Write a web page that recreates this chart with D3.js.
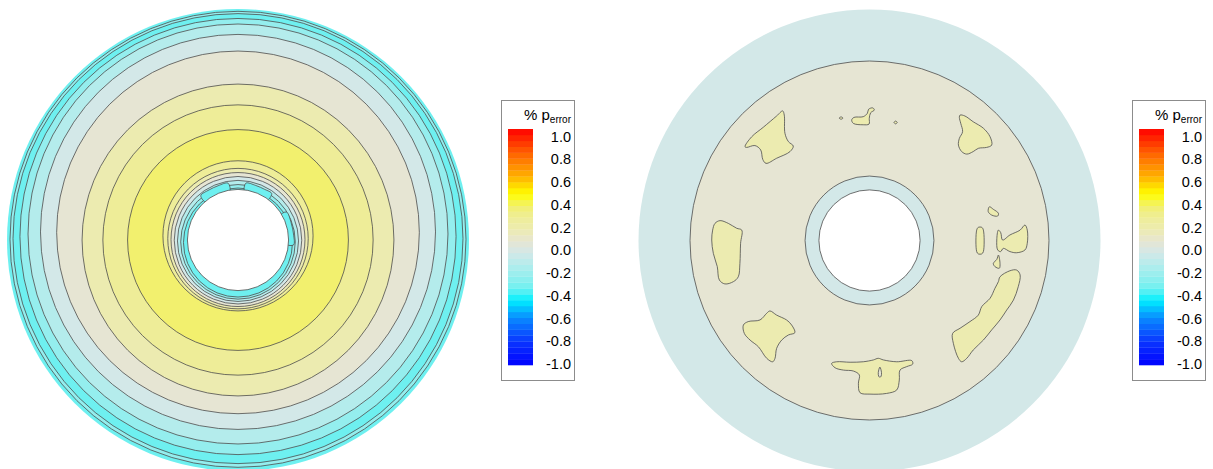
<!DOCTYPE html>
<html>
<head>
<meta charset="utf-8">
<script src="https://cdn.jsdelivr.net/npm/d3@7"></script>
<style>
  body { margin: 0; background: #fff; }
  svg { display: block; }
  text { font-family: "Liberation Sans", Arial, Helvetica, sans-serif; fill: #000; }
</style>
</head>
<body>
<svg id="chart" width="1213" height="469"></svg>
<script>
// ---- colour map for % p_error (banded) ----
const cmapValues = [-1.0, -0.8, -0.6, -0.45, -0.35, -0.25, -0.15, -0.05, 0.05, 0.15, 0.25, 0.35, 0.45, 0.6, 0.8, 1.0];
const cmapColors = ["#0000ff", "#0a36ff", "#0a8cff", "#00f0ff", "#6ef0f0", "#94eeee", "#b4ecec", "#d3e8e8",
                    "#e6e5d3", "#ecebb0", "#eeed98", "#f2f06e", "#ffff00", "#ffb000", "#ff6000", "#ff0000"];
const legendTicks = [1.0, 0.8, 0.6, 0.4, 0.2, 0.0, -0.2, -0.4, -0.6, -0.8, -1.0];
const legendBandCount = 40;

// ---- case A: radial contour bands (radius r/R, centre offset dy, band value) ----
const leftBounds = [1.0, 0.987, 0.974, 0.944, 0.909, 0.855, 0.785, 0.675, 0.585, 0.478,
                    0.325, 0.304, 0.290, 0.276, 0.262, 0.248, 0.236];
const leftShift  = [0, 0.003, 0.006, 0.015, 0.026, 0.035, 0.033, 0, 0, 0,
                    0.018, 0.006, 0.002, -0.001, -0.004, -0.008, -0.011];
const leftBands  = [-0.35, -0.25, -0.35, -0.25, -0.15, -0.05, 0.05, 0.15, 0.25, 0.35,
                    0.25, 0.15, 0.05, -0.05, -0.15, -0.25, -0.35];

// ---- case A: pockets at the inner wall (x, y in r/R units) ----
const pocketNW = [[-0.043,0.246],[-0.086,0.235],[-0.125,0.217],[-0.161,0.192],
  [-0.135,0.161],[-0.089,0.190],[-0.036,0.207]];
const pocketNE = [[0.034,0.246],[0.077,0.236],[0.116,0.219],[0.146,0.201],
  [0.123,0.170],[0.079,0.195],[0.029,0.208]];
const pocketE = [[0.210,0.121],[0.230,0.075],[0.241,0.021],[0.241,-0.021],
  [0.209,-0.018],[0.205,0.044],[0.182,0.105]];
const leftPatches = [
  { value: -0.35, pts: pocketNW }, { value: -0.35, pts: pocketNE }, { value: -0.35, pts: pocketE }
];

// ---- case B: radial bands ----
const rightBounds = [1.0, 0.777, 0.279];
const rightShift  = [0, 0, 0];
const rightBands  = [-0.05, 0.05, -0.05];
const holeRadius = 0.219;

// ---- case B: isolated patches (x, y in r/R units) ----
const patchNW = [[-0.539,0.406],[-0.510,0.449],[-0.460,0.490],[-0.402,0.539],[-0.376,0.561],[-0.369,0.543],
  [-0.366,0.464],[-0.351,0.428],[-0.330,0.409],[-0.344,0.385],[-0.402,0.356],[-0.448,0.334],[-0.462,0.351],
  [-0.471,0.392],[-0.496,0.411],[-0.532,0.403]];
const patchN = [[-0.077,0.522],[-0.067,0.533],[-0.027,0.536],[-0.009,0.551],[-0.004,0.568],[0.014,0.574],
  [0.021,0.565],[0.005,0.553],[-0.001,0.529],[-0.002,0.504],[-0.027,0.501],[-0.070,0.507]];
const patchDotA = [[-0.131,0.530],[-0.123,0.535],[-0.115,0.530],[-0.123,0.525]];
const patchDotB = [[0.106,0.511],[0.113,0.517],[0.120,0.511],[0.113,0.505]];
const patchNE = [[0.392,0.543],[0.413,0.539],[0.449,0.514],[0.493,0.486],[0.522,0.449],[0.529,0.413],
  [0.507,0.403],[0.471,0.399],[0.449,0.385],[0.421,0.374],[0.399,0.385],[0.385,0.413],[0.389,0.442],
  [0.403,0.471],[0.395,0.507],[0.389,0.533]];
const patchW = [[-0.669,0.074],[-0.647,0.086],[-0.611,0.074],[-0.575,0.053],[-0.553,0.045],[-0.558,-0.012],
  [-0.561,-0.099],[-0.568,-0.157],[-0.589,-0.178],[-0.626,-0.188],[-0.650,-0.171],[-0.659,-0.113],
  [-0.676,-0.056],[-0.683,0.002],[-0.679,0.045]];
const patchSW = [[-0.546,-0.366],[-0.525,-0.351],[-0.474,-0.344],[-0.445,-0.315],[-0.431,-0.305],[-0.402,-0.323],
  [-0.359,-0.344],[-0.337,-0.366],[-0.323,-0.399],[-0.351,-0.409],[-0.380,-0.431],[-0.402,-0.467],
  [-0.409,-0.510],[-0.419,-0.525],[-0.445,-0.510],[-0.481,-0.460],[-0.517,-0.431],[-0.542,-0.402]];
const patchS = [[-0.164,-0.532],[-0.142,-0.525],[-0.084,-0.527],[-0.027,-0.525],[0.017,-0.517],[0.038,-0.510],
  [0.060,-0.517],[0.118,-0.525],[0.183,-0.520],[0.187,-0.535],[0.161,-0.546],[0.132,-0.561],[0.129,-0.604],
  [0.118,-0.647],[0.074,-0.662],[0.002,-0.665],[-0.041,-0.659],[-0.048,-0.618],[-0.044,-0.582],
  [-0.070,-0.565],[-0.113,-0.561],[-0.149,-0.551]];
const patchSHole = [[0.045,-0.548],[0.052,-0.572],[0.050,-0.588],[0.045,-0.592],[0.040,-0.588],[0.038,-0.572]];
const patchSE = [[0.565,-0.157],[0.608,-0.131],[0.637,-0.128],[0.652,-0.149],[0.644,-0.200],[0.623,-0.258],
  [0.594,-0.301],[0.565,-0.344],[0.529,-0.387],[0.493,-0.431],[0.449,-0.474],[0.421,-0.510],[0.399,-0.525],
  [0.385,-0.510],[0.363,-0.445],[0.360,-0.402],[0.392,-0.380],[0.435,-0.351],[0.471,-0.323],[0.486,-0.286],
  [0.522,-0.250],[0.543,-0.207],[0.558,-0.178]];
const patchE1 = [[0.519,0.146],[0.536,0.135],[0.558,0.118],[0.555,0.106],[0.529,0.110],[0.514,0.125]];
const patchE2 = [[0.464,0.045],[0.471,0.057],[0.486,0.057],[0.493,0.045],[0.493,-0.048],[0.486,-0.058],
  [0.471,-0.058],[0.464,-0.048]];
const patchE3 = [[0.558,0.045],[0.568,0.034],[0.576,0.002],[0.608,0.024],[0.652,0.045],[0.673,0.067],
  [0.683,0.045],[0.683,-0.012],[0.673,-0.041],[0.637,-0.053],[0.608,-0.048],[0.579,-0.034],[0.568,-0.048],
  [0.555,-0.041],[0.551,0.002]];
const patchE4 = [[0.558,-0.063],[0.565,-0.099],[0.562,-0.120],[0.543,-0.113],[0.536,-0.099],[0.551,-0.082]];

const rightPatches = [
  { value: 0.15, pts: patchNW }, { value: 0.15, pts: patchN }, { value: 0.15, pts: patchDotA },
  { value: 0.15, pts: patchDotB }, { value: 0.15, pts: patchNE }, { value: 0.15, pts: patchW },
  { value: 0.15, pts: patchSW }, { value: 0.15, pts: patchS }, { value: 0.05, pts: patchSHole },
  { value: 0.15, pts: patchSE }, { value: 0.15, pts: patchE1 }, { value: 0.15, pts: patchE2 },
  { value: 0.15, pts: patchE3 }, { value: 0.15, pts: patchE4 }
];

// ---- drawing ----
const svg = d3.select("#chart");
const color = d3.scaleLinear().domain(cmapValues).range(cmapColors).interpolate(d3.interpolateRgb);
const lineColor = "#4d4d4d";

function drawDisk(cx, cy, R, bounds, shifts, bands, patches) {
  const x = d3.scaleLinear().domain([-1, 1]).range([cx - R, cx + R]);
  const y = d3.scaleLinear().domain([-1, 1]).range([cy + R, cy - R]);
  const rad = d => x(d) - x(0);
  const g = svg.append("g");
  const rings = bounds.map((b, i) => ({ r: b, dy: shifts[i], v: bands[i], edge: i === 0 }));

  g.selectAll("circle.band").data(rings).join("circle")
    .attr("class", "band")
    .attr("cx", x(0)).attr("cy", d => y(d.dy)).attr("r", d => rad(d.r))
    .attr("fill", d => color(d.v))
    .attr("stroke", d => d.edge ? "none" : lineColor)
    .attr("stroke-width", 0.8);

  const line = d3.line().x(d => x(d[0])).y(d => y(d[1])).curve(d3.curveCatmullRomClosed.alpha(0.5));
  g.selectAll("path.patch").data(patches).join("path")
    .attr("class", "patch")
    .attr("d", d => line(d.pts))
    .attr("fill", d => color(d.value))
    .attr("stroke", lineColor).attr("stroke-width", 0.8);

  g.append("circle")
    .attr("cx", x(0)).attr("cy", y(0)).attr("r", rad(holeRadius))
    .attr("fill", "#fff").attr("stroke", lineColor).attr("stroke-width", 0.8);
}

function drawLegend(left) {
  const top = 100, width = 73, height = 280;
  const g = svg.append("g");
  g.append("rect").attr("x", left + 0.5).attr("y", top + 0.5).attr("width", width).attr("height", height)
    .attr("fill", "#fff").attr("stroke", "#8c8c8c").attr("stroke-width", 1);

  const barY = d3.scaleLinear().domain([-1, 1]).range([365, 129]);
  const step = 2 / legendBandCount;
  const bands = d3.range(legendBandCount).map(i => -1 + i * step);
  g.selectAll("rect.cb").data(bands).join("rect")
    .attr("class", "cb")
    .attr("x", left + 7).attr("width", 25)
    .attr("y", d => barY(d + step)).attr("height", d => barY(d) - barY(d + step) + 0.3)
    .attr("fill", d => color(d + step / 2));

  const tickY = d3.scaleLinear().domain([-1, 1]).range([364, 136.5]);
  g.selectAll("text.tick").data(legendTicks).join("text")
    .attr("class", "tick")
    .attr("x", left + 70).attr("y", d => tickY(d))
    .attr("text-anchor", "end").attr("dominant-baseline", "central")
    .style("font-size", "14.5px")
    .text(d => d.toFixed(1));

  const title = g.append("text").attr("x", left + 23).attr("y", 120).style("font-size", "15px");
  title.append("tspan").text("% p");
  title.append("tspan").attr("dy", 3).style("font-size", "10px").text("error");
}

drawDisk(238, 240, 231, leftBounds, leftShift, leftBands, leftPatches);
drawDisk(869.5, 240.5, 231, rightBounds, rightShift, rightBands, rightPatches);
drawLegend(501);
drawLegend(1132);
</script>
</body>
</html>
